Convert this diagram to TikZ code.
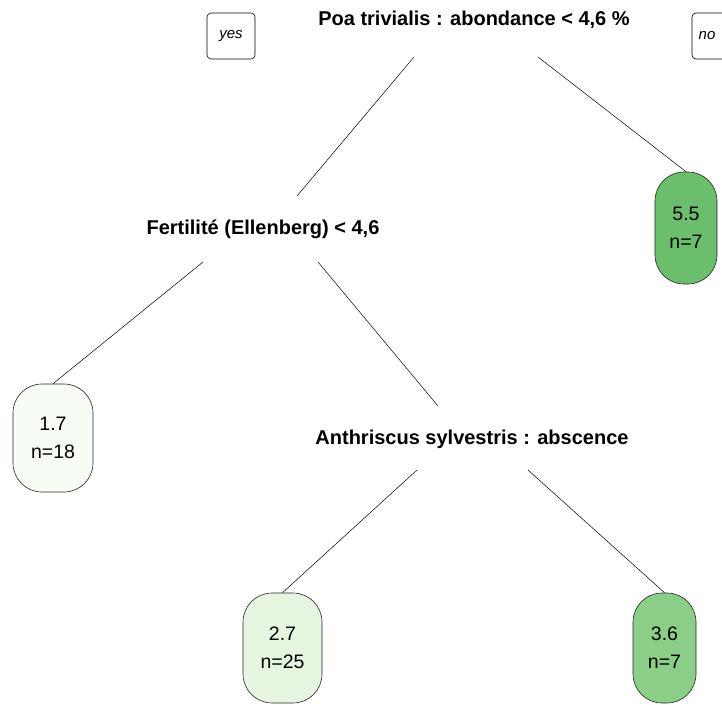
\documentclass[tikz,border=0pt]{standalone}
\usepackage{fontspec}
\setmainfont{Liberation Sans}
\begin{document}
\begin{tikzpicture}[x=1pt,y=-1pt,
  split/.style={font=\fontsize{20}{24}\selectfont\bfseries, inner sep=0pt},
  leaf/.style={draw=black!85, line width=0.6pt, rounded corners=29pt, align=center,
    font=\fontsize{19.5}{28}\selectfont, inner sep=0pt},
  lab/.style={draw=black, line width=0.6pt, rounded corners=4pt, minimum width=48pt, minimum height=46pt,
    font=\fontsize{15}{17}\selectfont\itshape, inner sep=0pt},
  edge/.style={draw=black, line width=0.5pt}]
\useasboundingbox (0,0) rectangle (722,704);
\clip (0,0) rectangle (722,704);
\definecolor{c55}{RGB}{106,190,108}
\definecolor{c36}{RGB}{138,206,135}
\definecolor{c27}{RGB}{229,245,224}
\definecolor{c17}{RGB}{247,252,245}

\node[lab] (yes) at (231,36) {yes};
\node[lab] (no) at (716,36) {\hspace*{-18pt}no};

\node[split] (root) at (474,20) {Poa trivialis : abondance < 4,6 \%};
\node[split] (fert) at (263,229) {Fertilité (Ellenberg) < 4,6};
\node[split] (anth) at (472,439) {Anthriscus sylvestris : abscence};

\node[leaf, fill=c55, minimum width=62pt, minimum height=112pt] (l55) at (686,228) {5.5\\n=7};
\node[leaf, fill=c17, minimum width=80pt, minimum height=108pt] (l17) at (53,438) {1.7\\n=18};
\node[leaf, fill=c27, minimum width=79pt, minimum height=110pt] (l27) at (282.5,648) {2.7\\n=25};
\node[leaf, fill=c36, minimum width=63pt, minimum height=110pt] (l36) at (664.5,648) {3.6\\n=7};

\coordinate (rootL) at (414,57);
\coordinate (rootR) at (538,57);
\coordinate (fertIn) at (297,196);
\coordinate (fertL) at (203,262);
\coordinate (fertR) at (318,262);
\coordinate (anthIn) at (438,406);
\coordinate (anthL) at (417,470);
\coordinate (anthR) at (528,470);

\draw[edge] (rootL) -- (fertIn);
\draw[edge] (rootR) -- (l55.north);
\draw[edge] (fertL) -- (l17.north);
\draw[edge] (fertR) -- (anthIn);
\draw[edge] (anthL) -- (l27.north);
\draw[edge] (anthR) -- (l36.north);
\end{tikzpicture}
\end{document}
